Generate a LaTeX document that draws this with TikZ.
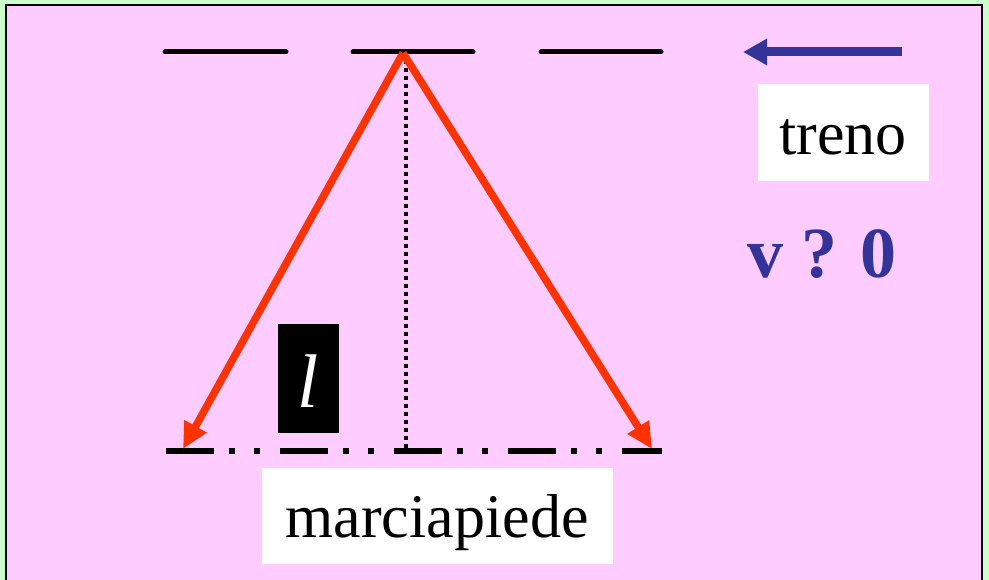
\documentclass[tikz,border=0pt]{standalone}
\usepackage{fontspec}
\setmainfont{Liberation Serif}
\usetikzlibrary{arrows.meta}
\definecolor{pinkbg}{HTML}{FFCCFF}
\definecolor{greenbg}{HTML}{CCFFCC}
\definecolor{redarrow}{HTML}{FF3300}
\definecolor{bluetrain}{HTML}{333399}
\tikzset{
  trackdash/.style={line width=5pt, line cap=round, black},
  rayarrow/.style={line width=7.5pt, redarrow, -{Triangle[length=26pt,width=24pt]}},
  whitebox/.style={fill=white, draw=none, inner sep=0pt},
  bigtext/.style={inner sep=0pt, anchor=base, font=\fontsize{62}{62}\selectfont}
}
\begin{document}
\begin{tikzpicture}[x=1pt,y=-1pt]
\useasboundingbox (0,0) rectangle (989,580);
\clip (0,0) rectangle (989,580);
\fill[greenbg] (0,0) rectangle (989,580);
\filldraw[fill=pinkbg, draw=black, line width=2.5pt] (6,5) rectangle (982,600);
% top track (train)
\coordinate (t1a) at (165,52); \coordinate (t1b) at (286,52);
\coordinate (t2a) at (353,52); \coordinate (t2b) at (473,52);
\coordinate (t3a) at (541,52); \coordinate (t3b) at (661,52);
\draw[trackdash] (t1a) -- (t1b);
\draw[trackdash] (t2a) -- (t2b);
\draw[trackdash] (t3a) -- (t3b);
% bottom dash-dot line (platform)
\coordinate (p1) at (166,451); \coordinate (p2) at (662,451);
\draw[line width=5.5pt, black, dash pattern=on 48pt off 15pt on 6pt off 19pt on 6pt off 20pt] (p1) -- (p2);
% dotted vertical
\coordinate (apex) at (403,53);
\coordinate (vtop) at (406,60); \coordinate (vbot) at (406,449);
\draw[line width=3.5pt, black, dash pattern=on 4pt off 4pt] (vtop) -- (vbot);
% rays
\coordinate (lend) at (183,449); \coordinate (rend) at (652,449);
\draw[rayarrow] (apex) -- (lend);
\draw[rayarrow] (apex) -- (rend);
% l box
\node[fill=black, inner sep=0pt, minimum width=61pt, minimum height=109pt] (lbox) at (308.5,378.5) {};
\node[inner sep=0pt, anchor=base, text=white, font=\fontsize{76}{76}\selectfont\itshape] (ltext) at (308,407) {l};
% train arrow
\coordinate (bs) at (902,52); \coordinate (be) at (743,52);
\draw[line width=9pt, bluetrain, -{Triangle[length=24pt,width=25pt]}] (bs) -- (be);
% treno
\node[whitebox, minimum width=171pt, minimum height=97pt] (trenobox) at (843.5,132.5) {};
\node[bigtext] (treno) at (843,155) {treno};
% v ? 0
\node[inner sep=0pt, anchor=base, text=bluetrain, font=\fontsize{72}{72}\selectfont\bfseries] (vtext) at (822,278) {v ? 0};
% marciapiede
\node[whitebox, minimum width=351pt, minimum height=96pt] (marbox) at (437.5,516) {};
\node[bigtext] (mar) at (437,537) {marciapiede};
\end{tikzpicture}
\end{document}
